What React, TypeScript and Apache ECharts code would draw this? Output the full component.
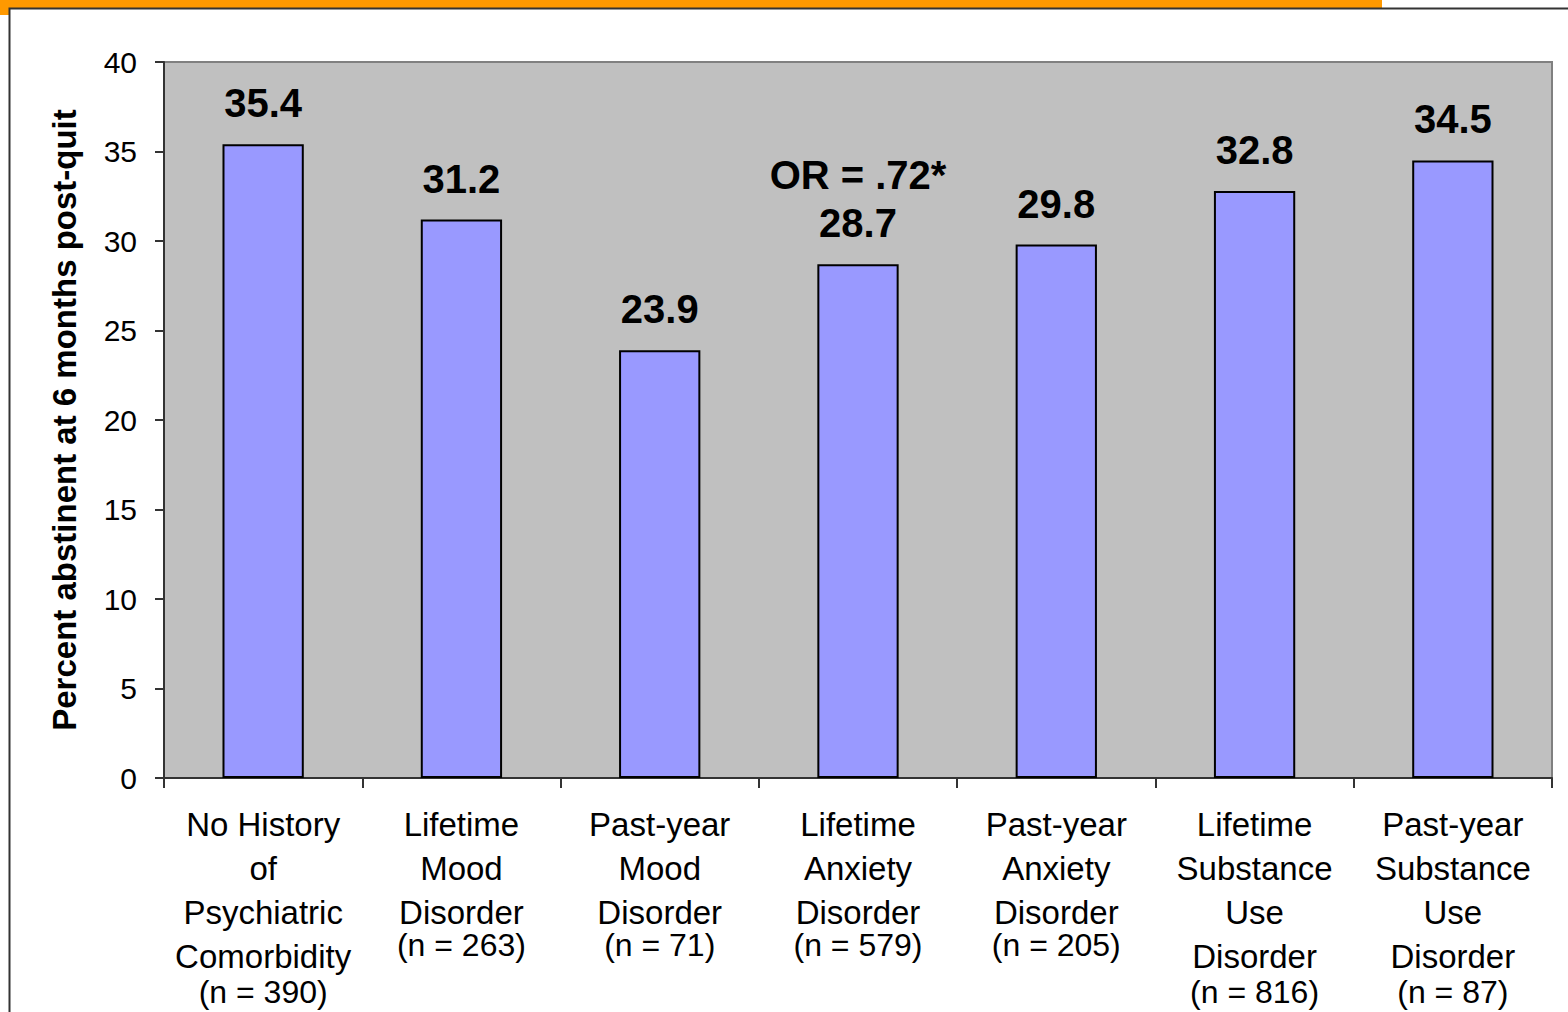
import React, { useEffect, useRef } from "react";
import * as echarts from "echarts";

const categoryLines = [
  "No History\nof\nPsychiatric\nComorbidity",
  "Lifetime\nMood\nDisorder",
  "Past-year\nMood\nDisorder",
  "Lifetime\nAnxiety\nDisorder",
  "Past-year\nAnxiety\nDisorder",
  "Lifetime\nSubstance\nUse\nDisorder",
  "Past-year\nSubstance\nUse\nDisorder",
];
const sampleSizes = [390, 263, 71, 579, 205, 816, 87];
const values = [35.4, 31.2, 23.9, 28.7, 29.8, 32.8, 34.5];
const barNotes = ["", "", "", "OR = .72*", "", "", ""];
const yTitle = "Percent abstinent at 6 months post-quit";

const FONT = "Liberation Sans, Arial, sans-serif";

export default function App() {
  const ref = useRef<HTMLDivElement>(null);
  useEffect(() => {
    if (!ref.current) return;
    const chart = echarts.init(ref.current, undefined, { renderer: "svg" });
    chart.setOption({
      animation: false,
      backgroundColor: "transparent",
      graphic: [
        { type: "rect", shape: { x: 0, y: 0, width: 1382, height: 15 }, style: { fill: "#FF9900" }, z: 0 },
        { type: "rect", shape: { x: 9.5, y: 8.5, width: 1570, height: 1020 }, style: { fill: "#ffffff", stroke: "#333333", lineWidth: 2 }, z: 1 },
      ],
      grid: {
        left: 164,
        right: 16,
        top: 62,
        bottom: 234,
        show: true,
        backgroundColor: "#C0C0C0",
        borderColor: "#808080",
        borderWidth: 2,
        z: 2,
      },
      xAxis: {
        type: "category",
        data: categoryLines,
        axisLine: { lineStyle: { color: "#333333", width: 2 } },
        axisTick: { show: true, interval: 0, length: 10, lineStyle: { color: "#333333", width: 2 } },
        axisLabel: {
          interval: 0,
          margin: 24,
          formatter: (val: string, idx: number) => {
            const lines = val.split("\n");
            const nStyle = lines.length >= 4 ? "n4" : "n3";
            return lines.map((l) => `{a|${l}}`).join("\n") + `\n{${nStyle}|(n = ${sampleSizes[idx]})}`;
          },
          rich: {
            a: { fontSize: 33, lineHeight: 44, color: "#000", fontFamily: FONT },
            n3: { fontSize: 32, lineHeight: 22, color: "#000", fontFamily: FONT },
            n4: { fontSize: 32, lineHeight: 28, color: "#000", fontFamily: FONT },
          },
        },
        z: 3,
      },
      yAxis: {
        type: "value",
        min: 0,
        max: 40,
        interval: 5,
        name: yTitle,
        nameLocation: "middle",
        nameGap: 83,
        nameTextStyle: { fontSize: 33, fontWeight: "bold", color: "#000", fontFamily: FONT },
        axisLine: { show: true, lineStyle: { color: "#333333", width: 2 } },
        axisTick: { show: true, length: 9, lineStyle: { color: "#333333", width: 2 } },
        axisLabel: { fontSize: 30, color: "#000", margin: 27, fontFamily: FONT },
        splitLine: { show: false },
        z: 3,
      },
      series: [
        {
          type: "bar",
          data: values,
          barWidth: "41%",
          itemStyle: { color: "#9999FF", borderColor: "#000000", borderWidth: 2 },
          z: 3,
          label: {
            show: true,
            position: "top",
            distance: 17,
            fontSize: 40,
            fontWeight: "bold",
            color: "#000",
            fontFamily: FONT,
            lineHeight: 48,
            formatter: (p: any) => (barNotes[p.dataIndex] ? barNotes[p.dataIndex] + "\n" : "") + p.value.toFixed(1),
          },
        },
      ],
    });
    return () => chart.dispose();
  }, []);
  return <div ref={ref} style={{ width: 1568, height: 1012, position: "absolute", left: 0, top: 0 }} />;
}
